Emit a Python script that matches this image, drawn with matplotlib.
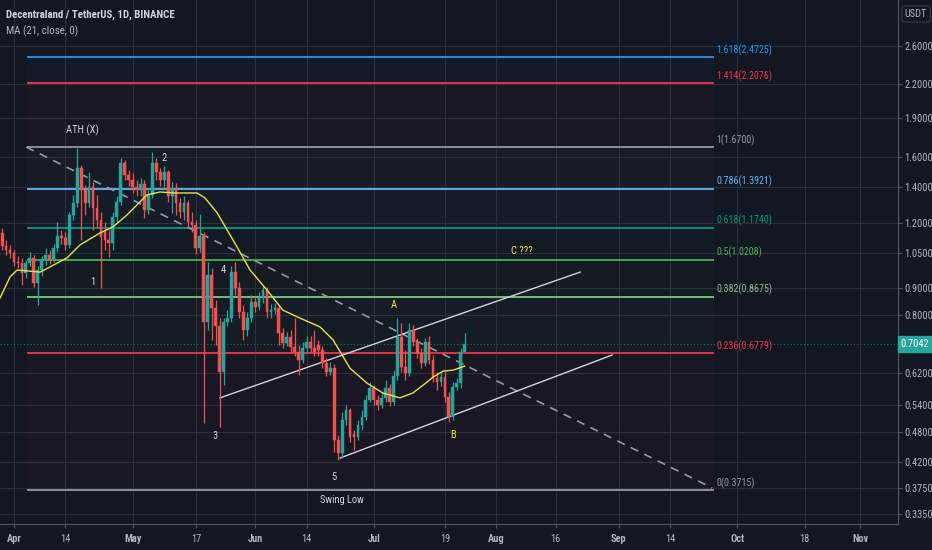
import numpy as np
import pandas as pd
import matplotlib
matplotlib.use('Agg')
import matplotlib.pyplot as plt
import matplotlib.dates as mdates
from matplotlib.ticker import FixedLocator, NullLocator, FixedFormatter
from matplotlib import font_manager

# ---------------- data ----------------
dates = pd.date_range('2021-03-29', periods=118, freq='D')

opens = [1.147, 1.083, 1.064, 1.050, 1.010, 1.006, 0.962, 1.006, 1.028, 0.921,
         0.975, 1.019, 1.041, 1.023, 1.074, 1.132, 1.122, 1.088, 1.241, 1.308,
         1.524, 1.384, 1.308, 1.403, 1.279, 1.214, 1.152, 1.112, 1.098, 1.230,
         1.313, 1.558, 1.478, 1.446, 1.403, 1.384, 1.421, 1.268, 1.354, 1.558,
         1.498, 1.446, 1.498, 1.348, 1.397, 1.308, 1.257, 1.308, 1.203, 1.188,
         1.074, 1.132, 0.776, 0.954, 0.825, 0.763, 0.623, 0.776, 0.790, 0.966,
         0.901, 0.811, 0.750, 0.790, 0.848, 0.829, 0.863, 0.893, 0.811, 0.818,
         0.825, 0.740, 0.709, 0.727, 0.696, 0.681, 0.657, 0.693, 0.712, 0.693,
         0.702, 0.687, 0.648, 0.623, 0.634, 0.463, 0.437, 0.506, 0.528, 0.476,
         0.470, 0.495, 0.513, 0.552, 0.582, 0.552, 0.540, 0.557, 0.582, 0.547,
         0.612, 0.727, 0.637, 0.620, 0.750, 0.712, 0.678, 0.648, 0.712, 0.657,
         0.607, 0.597, 0.610, 0.560, 0.513, 0.584, 0.594, 0.681]

closes = [1.083, 1.064, 1.050, 1.010, 1.006, 0.962, 1.006, 1.028, 0.921, 0.975,
          1.019, 1.041, 1.023, 1.074, 1.132, 1.122, 1.088, 1.241, 1.308, 1.524,
          1.384, 1.308, 1.403, 1.279, 1.214, 1.127, 1.112, 1.098, 1.230, 1.313,
          1.558, 1.478, 1.446, 1.403, 1.384, 1.421, 1.268, 1.354, 1.558, 1.498,
          1.446, 1.498, 1.348, 1.397, 1.308, 1.257, 1.308, 1.203, 1.188, 1.074,
          1.132, 0.776, 0.954, 0.825, 0.763, 0.623, 0.776, 0.790, 0.966, 0.901,
          0.811, 0.750, 0.790, 0.848, 0.829, 0.863, 0.893, 0.811, 0.818, 0.825,
          0.740, 0.709, 0.727, 0.696, 0.681, 0.657, 0.693, 0.712, 0.693, 0.681,
          0.687, 0.648, 0.623, 0.634, 0.463, 0.437, 0.506, 0.528, 0.470, 0.470,
          0.495, 0.513, 0.552, 0.582, 0.552, 0.540, 0.557, 0.582, 0.547, 0.612,
          0.727, 0.637, 0.620, 0.750, 0.712, 0.678, 0.648, 0.712, 0.657, 0.607,
          0.597, 0.610, 0.560, 0.513, 0.584, 0.594, 0.681, 0.7042]

highs = [1.172, 1.112, 1.088, 1.064, 1.036, 1.028, 1.019, 1.055, 1.041, 0.993,
         1.036, 1.074, 1.064, 1.093, 1.203, 1.162, 1.152, 1.257, 1.354, 1.664,
         1.544, 1.415, 1.498, 1.433, 1.354, 1.257, 1.203, 1.162, 1.257, 1.348,
         1.592, 1.578, 1.511, 1.491, 1.446, 1.459, 1.446, 1.397, 1.635, 1.592,
         1.524, 1.537, 1.511, 1.433, 1.427, 1.337, 1.348, 1.325, 1.257, 1.214,
         1.246, 1.152, 1.010, 0.984, 0.855, 0.790, 0.790, 0.818, 0.993, 1.010,
         0.925, 0.836, 0.811, 0.874, 0.870, 0.885, 0.913, 0.905, 0.840, 0.844,
         0.836, 0.756, 0.743, 0.750, 0.790, 0.702, 0.712, 0.731, 0.731, 0.750,
         0.718, 0.699, 0.663, 0.651, 0.646, 0.474, 0.524, 0.540, 0.533, 0.484,
         0.506, 0.528, 0.564, 0.597, 0.589, 0.564, 0.572, 0.602, 0.592, 0.629,
         0.790, 0.773, 0.687, 0.773, 0.766, 0.724, 0.693, 0.724, 0.731, 0.672,
         0.623, 0.623, 0.623, 0.572, 0.597, 0.607, 0.693, 0.740]

lows = [1.064, 1.041, 1.028, 0.993, 0.984, 0.913, 0.941, 0.993, 0.905, 0.836,
        0.950, 0.997, 1.001, 1.010, 1.055, 1.093, 1.064, 1.074, 1.214, 1.285,
        1.112, 1.241, 1.285, 1.162, 1.172, 0.901, 1.064, 1.032, 1.064, 1.203,
        1.296, 1.446, 1.409, 1.366, 1.348, 1.348, 1.225, 1.246, 1.337, 1.446,
        1.409, 1.397, 1.313, 1.252, 1.241, 1.225, 1.214, 1.172, 1.152, 1.046,
        1.055, 0.499, 0.750, 0.718, 0.702, 0.491, 0.589, 0.763, 0.776, 0.874,
        0.790, 0.718, 0.731, 0.776, 0.811, 0.818, 0.844, 0.790, 0.790, 0.804,
        0.702, 0.693, 0.699, 0.681, 0.669, 0.615, 0.648, 0.681, 0.681, 0.669,
        0.669, 0.634, 0.612, 0.615, 0.439, 0.424, 0.428, 0.495, 0.459, 0.443,
        0.463, 0.484, 0.506, 0.547, 0.540, 0.528, 0.533, 0.547, 0.538, 0.540,
        0.602, 0.623, 0.602, 0.612, 0.699, 0.663, 0.634, 0.640, 0.646, 0.597,
        0.577, 0.587, 0.547, 0.502, 0.506, 0.577, 0.582, 0.687]

# MA(21) line: days after 2021-04-01, value
ma_days = [-3.5, -1.0, 0.8, 6.6, 9.1, 13.4, 16.7, 21.8, 25.0, 28.6, 33.6, 36.9,
           40.7, 46.3, 48.3, 51.4, 56.4, 59.7, 64.0, 68.0, 72.3, 77.4, 80.7,
           85.0, 89.3, 93.3, 97.6, 100.9, 104.5, 106.0, 108.5, 111.1, 114.0]
ma_values = [0.863, 0.946, 0.975, 0.966, 0.988, 1.028, 1.088, 1.147, 1.177, 1.241,
             1.354, 1.372, 1.366, 1.366, 1.337, 1.252, 1.079, 0.975, 0.893, 0.818,
             0.790, 0.760, 0.718, 0.634, 0.594, 0.569, 0.557, 0.569, 0.597, 0.610,
             0.626, 0.629, 0.640]

fib_ratios = ['1.618', '1.414', '1', '0.786', '0.618', '0.5', '0.382', '0.236', '0']
fib_prices = [2.4725, 2.2076, 1.6700, 1.3921, 1.1740, 1.0208, 0.8675, 0.6779, 0.3715]
fib_colors = ['#2196f3', '#f23645', '#9598a1', '#64b5f6', '#089981', '#4caf50',
              '#81c784', '#f23645', '#9598a1']

y_ticks = [2.6, 2.2, 1.9, 1.6, 1.4, 1.2, 1.05, 0.9, 0.8, 0.62, 0.54, 0.48, 0.42, 0.375, 0.335]
x_tick_dates = ['2021-04-01', '2021-04-14', '2021-05-01', '2021-05-17', '2021-06-01',
                '2021-06-14', '2021-07-01', '2021-07-19', '2021-08-01', '2021-08-16',
                '2021-09-01', '2021-09-14', '2021-10-01', '2021-10-18', '2021-11-01']
x_tick_labels = ['Apr', '14', 'May', '17', 'Jun', '14', 'Jul', '19', 'Aug', '16',
                 'Sep', '14', 'Oct', '18', 'Nov']

last_price = 0.7042

# ---------------- fonts ----------------
fl = font_manager.fontManager.ttflist
names = {f.name for f in fl}
stretch = 'normal'
if 'Roboto Condensed' in names:
    base_font, k = 'Roboto Condensed', 1.0
elif 'Liberation Sans Narrow' in names:
    base_font, k = 'Liberation Sans Narrow', 1.0
elif any(f.name == 'DejaVu Sans' and str(f.stretch) in ('condensed', 'semi-condensed') for f in fl):
    base_font, k, stretch = 'DejaVu Sans', 0.9, 'condensed'
else:
    base_font, k = 'Liberation Sans', 0.86
plt.rcParams['font.family'] = [base_font, 'DejaVu Sans']
plt.rcParams['font.stretch'] = stretch

BG = '#131722'
GRID = '#2a2e39'
TXT = '#b2b5be'
UP = '#26a69a'
DOWN = '#ef5350'

fig = plt.figure(figsize=(9.32, 5.5), dpi=100, facecolor=BG)
ax = fig.add_axes([0, 26 / 550, 898 / 932, 524 / 550])
ax.set_facecolor(BG)
ax.set_yscale('log')

base = mdates.date2num(pd.Timestamp('2021-04-01'))
def dnum(d):
    return base + d

xs = mdates.date2num(dates)
o = np.array(opens); c = np.array(closes); h = np.array(highs); l = np.array(lows)
cols = [UP if cc >= oo else DOWN for oo, cc in zip(o, c)]

# grid
for t in y_ticks:
    ax.axhline(t, color=GRID, lw=0.8, zorder=0)
for t in x_tick_dates:
    ax.axvline(mdates.date2num(pd.Timestamp(t)), color=GRID, lw=0.8, zorder=0)

# fib levels
fx0, fx1 = dnum(3.3), dnum(177.1)
for i in range(len(fib_prices) - 1):
    ax.fill_between([fx0, fx1], fib_prices[i + 1], fib_prices[i],
                    color=fib_colors[i], alpha=0.03, lw=0, zorder=0.5)
for r, p, col in zip(fib_ratios, fib_prices, fib_colors):
    ax.plot([fx0, fx1], [p, p], color=col, lw=1.3, zorder=1, solid_capstyle='butt')
    ax.text(fx1 + 0.6, p * 1.006, f'{r}({p:.4f})', color=col, fontsize=7.2 * k,
            ha='left', va='bottom', zorder=5)

# current price line
ax.axhline(last_price, color=UP, lw=0.8, ls=(0, (1, 2)), alpha=0.6, zorder=1)

# candles
ax.vlines(xs, l, h, colors=cols, lw=0.9, zorder=3)
ax.bar(xs, np.abs(c - o), bottom=np.minimum(o, c), width=0.7, color=cols,
       edgecolor=cols, lw=0.3, zorder=4)

# MA
ax.plot([dnum(d) for d in ma_days], ma_values, color='#e8e24a', lw=1.0, zorder=5)

# trend / channel lines
trend_days = [3.1, 176.6]; trend_prices = [1.67, 0.3754]
ax.plot([dnum(d) for d in trend_days], trend_prices, color='#9598a1', lw=1.2,
        ls=(0, (5, 4)), zorder=2)
up_days = [52.1, 143.2]; up_prices = [0.557, 0.966]
ax.plot([dnum(d) for d in up_days], up_prices, color='#d1d4dc', lw=1.0, zorder=2)
lo_days = [82.5, 151.3]; lo_prices = [0.428, 0.672]
ax.plot([dnum(d) for d in lo_days], lo_prices, color='#d1d4dc', lw=1.0, zorder=2)

# annotations
WH = '#d1d4dc'; YL = '#f5e642'
notes = [('ATH (X)', 17.2, 1.800, WH), ('2', 38.0, 1.594, WH), ('1', 20.0, 0.925, WH),
         ('4', 52.9, 0.975, WH), ('3', 50.8, 0.472, WH), ('5', 81.0, 0.394, WH),
         ('Swing Low', 83.0, 0.356, WH), ('A', 96.1, 0.836, YL), ('B', 111.1, 0.474, YL),
         ('C ???', 128.5, 1.060, YL)]
for s, d, p, col in notes:
    ax.text(dnum(d), p, s, color=col, fontsize=7.6, ha='center', va='center', zorder=6)

# axes
ax.set_xlim(dnum(-3.54), dnum(223.6))
ax.set_ylim(0.3206, 3.180)
ax.yaxis.set_major_locator(FixedLocator(y_ticks))
ax.yaxis.set_minor_locator(NullLocator())
ax.yaxis.set_major_formatter(FixedFormatter([f'{t:.4f}' for t in y_ticks]))
ax.yaxis.tick_right()
ax.tick_params(axis='y', colors='#50535e', labelcolor=TXT, labelsize=7.5 * k,
               length=3, width=0.8, pad=1.5)
ax.set_xticks([mdates.date2num(pd.Timestamp(t)) for t in x_tick_dates])
ax.set_xticklabels(x_tick_labels)
ax.xaxis.set_minor_locator(NullLocator())
ax.tick_params(axis='x', colors='#50535e', labelcolor=TXT, labelsize=7.5,
               length=3, width=0.8, pad=4)
for lab in ax.get_xticklabels():
    if not lab.get_text().isdigit():
        lab.set_fontweight('bold')
for side in ['top', 'left']:
    ax.spines[side].set_visible(False)
for side in ['right', 'bottom']:
    ax.spines[side].set_color('#50535e')
    ax.spines[side].set_linewidth(0.9)

# last price tag
ax.text(1.003, last_price, f'{last_price:.4f}', transform=ax.get_yaxis_transform(),
        color='white', fontsize=7.5 * k, ha='left', va='center', zorder=10, clip_on=False,
        bbox=dict(boxstyle='square,pad=0.3', fc=UP, ec=UP))

# header
fig.text(6 / 932, 1 - 15 / 550, 'Decentraland / TetherUS, 1D, BINANCE', color='#d1d4dc',
         fontsize=7.8 * k, fontweight='bold', ha='left', va='center')
fig.text(6 / 932, 1 - 31 / 550, 'MA (21, close, 0)', color=TXT, fontsize=7.8 * k,
         ha='left', va='center')
fig.text(916 / 932, 1 - 14 / 550, 'USDT', color=TXT, fontsize=7.5 * k, ha='center', va='center',
         bbox=dict(boxstyle='round,pad=0.3', fc=BG, ec='#363a45', lw=0.8))

fig.savefig('out.png', dpi=100, facecolor=BG)
